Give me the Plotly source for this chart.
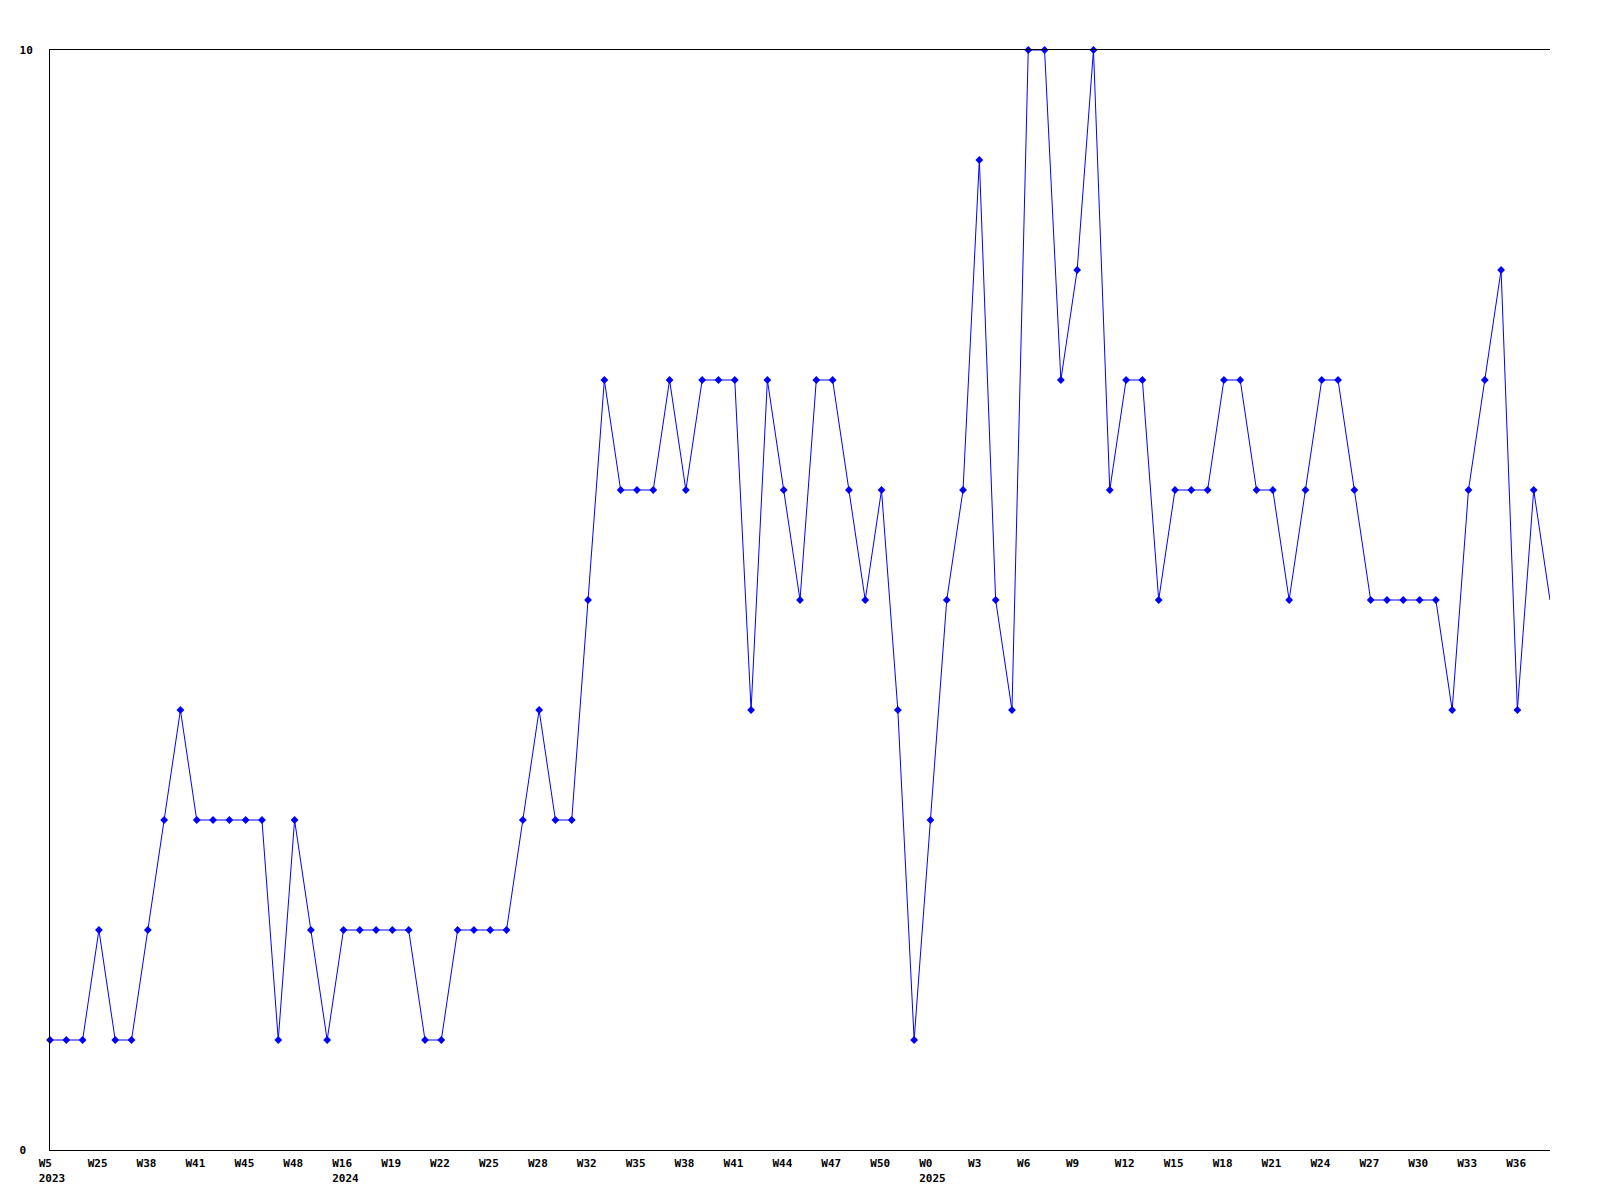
import plotly.graph_objects as go

# week categories (year, week) in plot order
weeks_2023 = [5, 12, 18, 25, 28, 33, 38, 39, 40, 41, 42, 44, 45, 46, 47, 48, 49, 50]
weeks_2024 = [16, 17, 18, 19, 20, 21, 22, 23, 24, 25, 26, 27, 28, 30, 31,
              32, 33, 34, 35, 36, 37, 38, 39, 40, 41, 42, 43, 44, 45, 46,
              47, 48, 49, 50, 51, 52]
weeks_2025 = list(range(0, 39))

values = [1, 1, 1, 2, 1, 1, 2, 3, 4, 3,
          3, 3, 3, 3, 1, 3, 2, 1, 2, 2,
          2, 2, 2, 1, 1, 2, 2, 2, 2, 3,
          4, 3, 3, 5, 7, 6, 6, 6, 7, 6,
          7, 7, 7, 4, 7, 6, 5, 7, 7, 6,
          5, 6, 4, 1, 3, 5, 6, 9, 5, 4,
          10, 10, 7, 8, 10, 6, 7, 7, 5, 6,
          6, 6, 7, 7, 6, 6, 5, 6, 7, 7,
          6, 5, 5, 5, 5, 5, 4, 6, 7, 8,
          4, 6, 5]

y_ticks = [0, 10]
y_tick_labels = ["0", "10"]

NB = "\u00a0"

categories = []
labels = []
prev_year = None
for year, wks in ((2023, weeks_2023), (2024, weeks_2024), (2025, weeks_2025)):
    for w in wks:
        categories.append(f"{year}-W{w:02d}")
        labels.append((year, w))

tickvals = categories[::3]
ticktext = []
for year, w in labels[::3]:
    txt = f"W{w}".ljust(4, NB)
    if year != prev_year:
        txt += "<br>" + str(year)
        prev_year = year
    ticktext.append(txt)

fig = go.Figure()
# line through every point, markers on all but the last (it sits on the right edge)
fig.add_trace(go.Scatter(
    x=categories,
    y=values,
    mode="lines",
    line=dict(color="#0000FF", width=1),
    showlegend=False,
))
fig.add_trace(go.Scatter(
    x=categories[:-1],
    y=values[:-1],
    mode="markers",
    marker=dict(color="#0000FF", symbol="diamond", size=6, line=dict(width=0)),
    cliponaxis=False,
    showlegend=False,
))

fig.update_layout(
    width=1600,
    height=1200,
    margin=dict(l=50, r=50, t=50, b=50),
    plot_bgcolor="white",
    paper_bgcolor="white",
    font=dict(family="DejaVu Sans Mono", size=11, color="black", weight="bold"),
    showlegend=False,
    xaxis=dict(
        type="category",
        range=[0, len(categories) - 1],
        tickvals=tickvals,
        ticktext=ticktext,
        showgrid=False,
        zeroline=False,
        showline=True,
        linecolor="black",
        linewidth=1,
        mirror=True,
        ticks="",
        ticklabelstandoff=3,
        ticklabelshift=2,
    ),
    yaxis=dict(
        range=[0, 10],
        tickvals=y_ticks,
        ticktext=[t.ljust(2, NB) for t in y_tick_labels],
        showgrid=False,
        zeroline=False,
        showline=True,
        linecolor="black",
        linewidth=1,
        ticks="",
        ticklabelstandoff=14,
    ),
)

fig.write_html("out.html", config={"displayModeBar": False},
               post_script="document.body.style.margin='0px';")
